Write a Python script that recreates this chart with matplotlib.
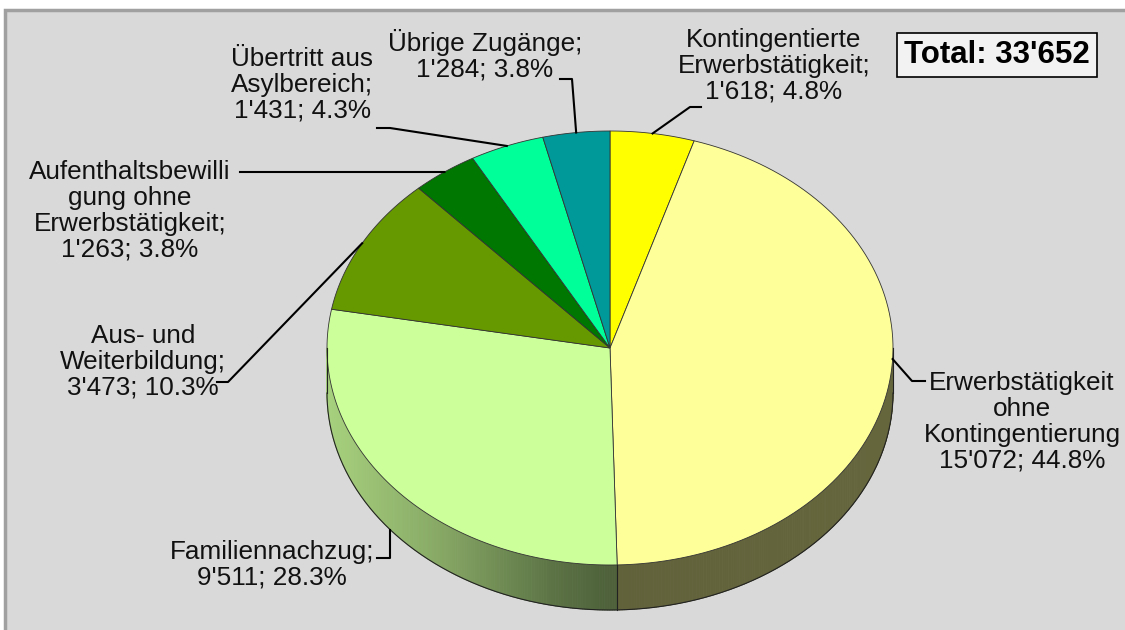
import numpy as np
import matplotlib
matplotlib.use("Agg")
import matplotlib.pyplot as plt
from matplotlib.patches import Polygon, Rectangle
from matplotlib.collections import PolyCollection

plt.rcParams['font.family'] = ['Liberation Sans', 'DejaVu Sans']

# Daten: Zugänge nach Zulassungsgrund
kategorien = ["Kontingentierte\nErwerbstätigkeit;",
              "Erwerbstätigkeit\nohne\nKontingentierung",
              "Familiennachzug;",
              "Aus- und\nWeiterbildung;",
              "Aufenthaltsbewilli\ngung ohne\nErwerbstätigkeit;",
              "Übertritt aus\nAsylbereich;",
              "Übrige Zugänge;"]
werte = [1618, 15072, 9511, 3473, 1263, 1431, 1284]
farben = ['#ffff00', '#ffff99', '#ccff99', '#669900', '#007700', '#00ff99', '#009999']

# Beschriftungspositionen (Mitte des Textblocks, Pixel)
label_pos = [(774, 66), (1022, 422), (272, 565), (143, 362), (130, 211), (302, 85), (485, 55)]

# Pie-Geometrie in Pixeln
cx, cy = 610, 348
rx, ry = 283, 217
tiefe = 45


def punkt(theta, dy=0):
    # theta in Grad, von oben im Uhrzeigersinn
    t = np.radians(theta)
    return cx + rx * np.sin(t), cy - ry * np.cos(t) + dy


def fmt(v):
    return f"{v:,}".replace(",", "'")


def dunkler(farbe, f):
    r, g, b = matplotlib.colors.to_rgb(farbe)
    return (r * f, g * f, b * f)


total = sum(werte)
anteile = np.array(werte) / total
grenzen = np.concatenate([[0], np.cumsum(anteile) * 360])

fig = plt.figure(figsize=(11.25, 6.3), dpi=100)
fig.patch.set_facecolor('white')
ax = fig.add_axes([0, 0, 1, 1])
ax.set_xlim(0, 1125)
ax.set_ylim(630, 0)
ax.axis('off')

ax.add_patch(Rectangle((5, 10), 1140, 640, facecolor='#d9d9d9', edgecolor='#a0a0a0', lw=2.5))

# Seitenwand (vorderer Teil, 90..270 Grad)
polys, cols = [], []
for i in range(len(werte)):
    a0, a1 = max(grenzen[i], 90), min(grenzen[i + 1], 270)
    if a1 <= a0:
        continue
    ts = np.linspace(a0, a1, int((a1 - a0) * 2) + 2)
    for t1, t2 in zip(ts[:-1], ts[1:]):
        p1, p2 = punkt(t1), punkt(t2)
        q2, q1 = punkt(t2, tiefe), punkt(t1, tiefe)
        polys.append([p1, p2, q2, q1])
        u = np.sin(np.radians((t1 + t2) / 2))
        f = np.interp(u, [-1, -0.6, -0.2, 0, 1], [0.82, 0.66, 0.45, 0.38, 0.4])
        cols.append(dunkler(farben[i], f))
ax.add_collection(PolyCollection(polys, facecolors=cols, edgecolors=cols, linewidths=0.6))

# Umrisse der Seitenwand
ts = np.linspace(90, 270, 300)
unten = np.array([punkt(t, tiefe) for t in ts])
ax.plot(unten[:, 0], unten[:, 1], color='#222222', lw=0.8)
for t in [90, 270] + [g for g in grenzen if 90 < g < 270]:
    x0, y0 = punkt(t)
    ax.plot([x0, x0], [y0, y0 + tiefe], color='#222222', lw=0.8)

# Deckfläche
for i in range(len(werte)):
    ts = np.linspace(grenzen[i], grenzen[i + 1], 100)
    pts = [(cx, cy)] + [punkt(t) for t in ts]
    ax.add_patch(Polygon(pts, closed=True, facecolor=farben[i], edgecolor='#333333', lw=0.6))

# Beschriftungen und Führungslinien
for i, (name, v) in enumerate(zip(kategorien, werte)):
    txt = f"{name}\n{fmt(v)}; {anteile[i] * 100:.1f}%"
    ax.text(label_pos[i][0], label_pos[i][1], txt, ha='center', va='center',
            fontsize=18.8, linespacing=1.1, color='#111111')

mitte = (grenzen[:-1] + grenzen[1:]) / 2
anker = [punkt(m) for m in mitte]
anker[2] = punkt(mitte[2] + 1.5, tiefe)
anker[1] = punkt(mitte[1] - 5)
leader = [
    [anker[0], (690, 107), (701, 107)],
    [anker[1], (912, 381), (925, 381)],
    [anker[2], (anker[2][0], 558), (377, 558)],
    [anker[3], (228, 382), (217, 382)],
    [anker[4], (240, 172)],
    [anker[5], (390, 128), (377, 128)],
    [anker[6], (572, 79), (560, 79)],
]
for pfad in leader:
    pfad = np.array(pfad)
    ax.plot(pfad[:, 0], pfad[:, 1], color='black', lw=1.5)

ax.text(997, 55, f"Total: {fmt(total)}", ha='center', va='center', fontsize=22.5,
        fontweight='bold',
        bbox=dict(boxstyle='square,pad=0.22', facecolor='#f2f2f2', edgecolor='black', lw=1.2))

fig.savefig('out.png', dpi=100)
